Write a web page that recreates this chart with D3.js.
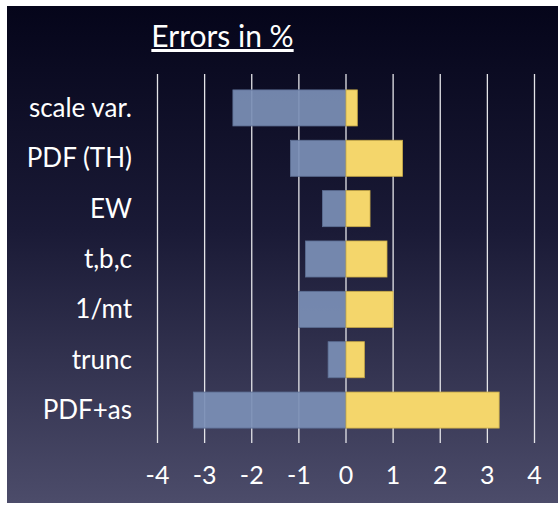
<!DOCTYPE html>
<html>
<head>
    <meta charset="UTF-8">
    <title>Errors in %</title>
    <script src="https://d3js.org/d3.v7.min.js"></script>
    <style>
        body { margin: 0; background: #fff; }
    </style>
</head>
<body>
    <div id="chart"></div>
    <script type="text/javascript">

        // data
        let categories = ["scale var.", "PDF (TH)", "EW", "t,b,c", "1/mt", "trunc", "PDF+as"];
        let lowerErr = [-2.40, -1.18, -0.50, -0.86, -1.00, -0.38, -3.24];
        let upperErr = [0.24, 1.20, 0.51, 0.87, 1.00, 0.39, 3.25];
        let xTicks = [-4, -3, -2, -1, 0, 1, 2, 3, 4];

        let width = 558, height = 505;
        let font = "Lato, 'Open Sans', sans-serif";

        let svg = d3.select("#chart")
            .append("svg")
            .attr("width", width)
            .attr("height", height);

        // background gradient of the slide
        let grad = svg.append("defs").append("linearGradient")
            .attr("id", "bg")
            .attr("x1", 0).attr("y1", 0).attr("x2", 0).attr("y2", 1);
        grad.append("stop").attr("offset", "0%").attr("stop-color", "#05051a");
        grad.append("stop").attr("offset", "45%").attr("stop-color", "#1a1a36");
        grad.append("stop").attr("offset", "100%").attr("stop-color", "#4c4c6a");

        svg.append("rect")
            .attr("x", 7).attr("y", 6)
            .attr("width", width - 7).attr("height", 497)
            .attr("fill", "url(#bg)");

        let x = d3.scaleLinear()
            .domain([-4, 4])
            .range([157.5, 534.5]);

        let y = d3.scaleBand()
            .domain(categories)
            .range([75.6, 442.4])
            .padding(0.284);

        let rows = categories.map((c, i) => ({ name: c, lo: lowerErr[i], hi: upperErr[i] }));

        // grid lines
        svg.append("g")
            .selectAll("line")
            .data(xTicks)
            .enter()
            .append("line")
            .attr("x1", d => x(d)).attr("x2", d => x(d))
            .attr("y1", 74).attr("y2", 443)
            .attr("stroke", "#e4e4e8")
            .attr("stroke-width", 1.3);

        // negative side (blue)
        svg.append("g")
            .selectAll("rect")
            .data(rows)
            .enter()
            .append("rect")
            .attr("x", d => x(d.lo))
            .attr("y", d => y(d.name))
            .attr("width", d => x(0) - x(d.lo))
            .attr("height", y.bandwidth())
            .attr("fill", "#7b8fb6")
            .attr("fill-opacity", 0.93)
            .attr("stroke", "#5d6f94")
            .attr("stroke-width", 0.8);

        // positive side (yellow)
        svg.append("g")
            .selectAll("rect")
            .data(rows)
            .enter()
            .append("rect")
            .attr("x", x(0))
            .attr("y", d => y(d.name))
            .attr("width", d => x(d.hi) - x(0))
            .attr("height", y.bandwidth())
            .attr("fill", "#f4d66b")
            .attr("stroke", "#c9ab48")
            .attr("stroke-width", 0.8);

        // category labels
        svg.append("g")
            .selectAll("text")
            .data(categories)
            .enter()
            .append("text")
            .attr("x", 132)
            .attr("y", d => y(d) + y.bandwidth() / 2 + 9)
            .attr("text-anchor", "end")
            .attr("fill", "#ffffff")
            .style("font-family", font)
            .style("font-size", "26px")
            .text(d => d);

        // tick labels
        svg.append("g")
            .selectAll("text")
            .data(xTicks)
            .enter()
            .append("text")
            .attr("x", d => x(d))
            .attr("y", 484)
            .attr("text-anchor", "middle")
            .attr("fill", "#ffffff")
            .style("font-family", font)
            .style("font-size", "25px")
            .text(d => d);

        // title
        svg.append("text")
            .attr("x", 222.5)
            .attr("y", 47)
            .attr("text-anchor", "middle")
            .attr("fill", "#ffffff")
            .style("font-family", font)
            .style("font-size", "30px")
            .style("text-decoration", "underline")
            .text("Errors in %");

    </script>
</body>
</html>
